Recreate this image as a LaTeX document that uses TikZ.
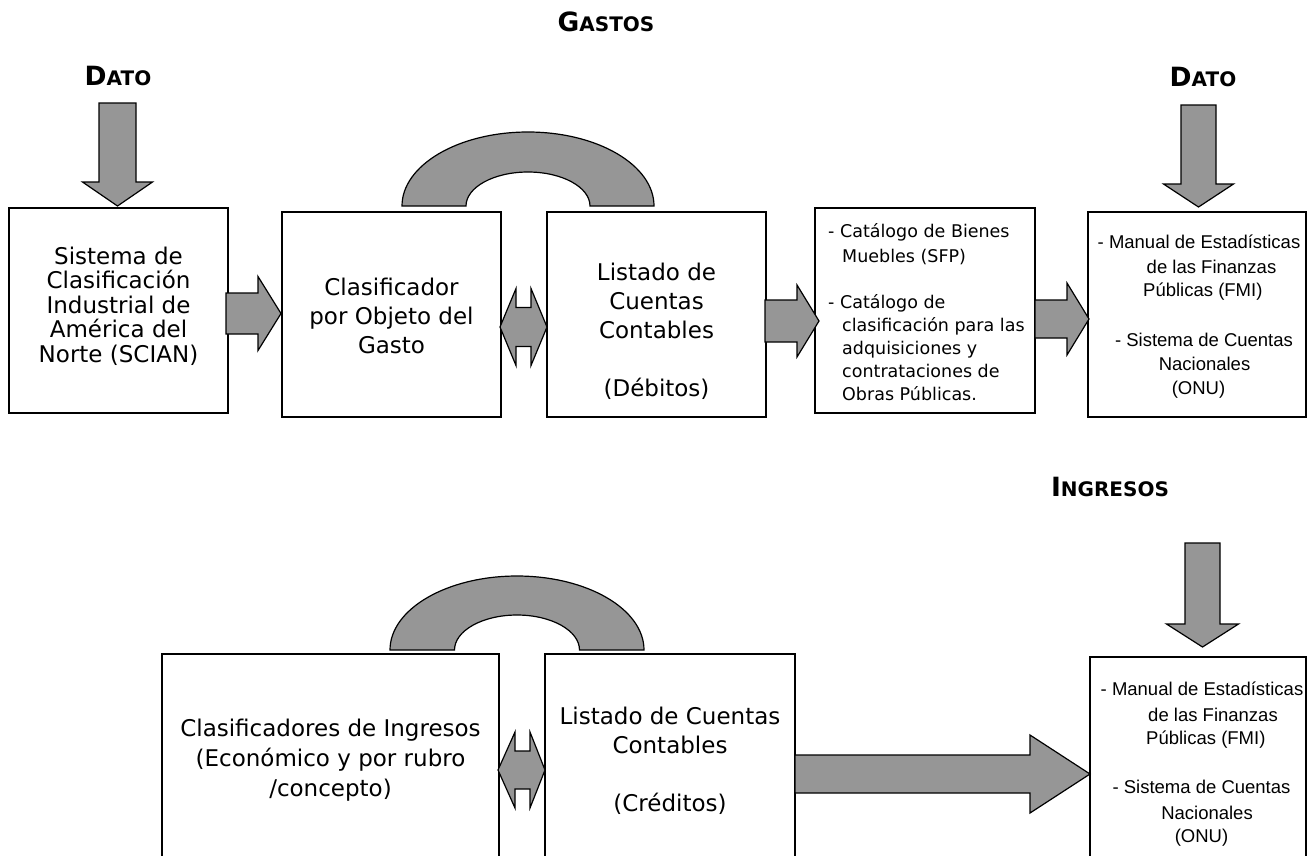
\documentclass[tikz,border=0pt]{standalone}
\usepackage{fontspec}
\setmainfont{DejaVu Sans}
\newfontfamily\tahfont{Liberation Sans}
\definecolor{arrgray}{RGB}{150,150,150}
\newcommand{\smc}[2]{{\fontsize{26.5}{26.5}\selectfont #1}{\fontsize{20}{20}\selectfont #2}}
\newcommand{\rarr}[6]{\draw[blk] (#1,#4-#5) -- (#2,#4-#5) -- (#2,#4-#6) -- (#3,#4) -- (#2,#4+#6) -- (#2,#4+#5) -- (#1,#4+#5) -- cycle;}
\newcommand{\darr}[6]{\draw[blk] (#1-#5,#2) -- (#1+#5,#2) -- (#1+#5,#3) -- (#1+#6,#3) -- (#1,#4) -- (#1-#6,#3) -- (#1-#5,#3) -- cycle;}
\newcommand{\dblarr}[7]{\draw[blk] (#1,#5) -- (#2,#5-#7) -- (#2,#5-#6) -- (#3,#5-#6) -- (#3,#5-#7) -- (#4,#5) -- (#3,#5+#7) -- (#3,#5+#6) -- (#2,#5+#6) -- (#2,#5+#7) -- cycle;}
\begin{document}
\begin{tikzpicture}[x=1pt,y=-1pt,
  box/.style={draw=black,line width=1.5pt,fill=white,rectangle,inner sep=0pt,outer sep=0pt},
  blk/.style={draw=black,line width=1.2pt,fill=arrgray,line join=miter},
  big/.style={font=\fontsize{23}{29}\selectfont,align=center,inner sep=0pt},
  small/.style={font=\fontsize{17.5}{23}\selectfont,align=left,inner sep=0pt,anchor=west},
  tah/.style={font=\tahfont\fontsize{18.5}{18.5}\selectfont,inner sep=0pt},
  hd/.style={font=\bfseries,inner sep=0pt}]
\useasboundingbox (0,0) rectangle (1309,855);
\clip (0,0) rectangle (1309,855);
\fill[white] (0,0) rectangle (1309,855);

% headings
\node[hd] (gastos) at (606,22) {\smc{G}{ASTOS}};
\node[hd] (dato1) at (118,76) {\smc{D}{ATO}};
\node[hd] (dato2) at (1203,77) {\smc{D}{ATO}};
\node[hd] (ingresos) at (1110,487) {\smc{I}{NGRESOS}};

% boxes
\node[box,minimum width=219pt,minimum height=205pt] (b1) at (118.5,310.5) {};
\node[box,minimum width=219pt,minimum height=205pt] (b2) at (391.5,314.5) {};
\node[box,minimum width=219pt,minimum height=205pt] (b3) at (656.5,314.5) {};
\node[box,minimum width=220pt,minimum height=205pt] (b4) at (925,310.5) {};
\node[box,minimum width=218pt,minimum height=205pt] (b5) at (1197,314.5) {};
\node[box,minimum width=337pt,minimum height=226pt] (bA) at (330.5,767) {};
\node[box,minimum width=250pt,minimum height=226pt] (bB) at (670,767) {};
\node[box,minimum width=216pt,minimum height=223pt] (bC) at (1198,768.5) {};

% arrows
\darr{117.5}{103}{182}{206}{18.5}{35}
\darr{1198.5}{105}{184}{207}{17.5}{35}
\darr{1202.5}{543}{624}{647}{17.5}{36}
\rarr{226}{258}{281}{313.5}{20.5}{37}
\rarr{765}{797}{819}{321}{21}{36}
\rarr{1035}{1067}{1089}{319}{19}{36}
\rarr{795}{1030}{1090}{774}{19}{39}
\dblarr{500}{516}{531}{547}{327}{19.5}{38.5}
\dblarr{498}{515}{530}{545}{770}{19}{38}

% arches
\draw[blk] (402,206) arc[start angle=180,end angle=0,x radius=126pt,y radius=74pt]
  -- (590,206) arc[start angle=0,end angle=180,x radius=62pt,y radius=34pt] -- cycle;
\draw[blk] (390,650) arc[start angle=180,end angle=0,x radius=127pt,y radius=74pt]
  -- (579.5,650) arc[start angle=0,end angle=180,x radius=62.5pt,y radius=35pt] -- cycle;

% texts
\node[big,font=\fontsize{23}{24.5}\selectfont] (t1) at (118.5,306) {Sistema de\\Clasificación\\Industrial de\\América del\\Norte (SCIAN)};
\node[big] (t2) at (391.5,315.5) {Clasificador\\por Objeto del\\Gasto};
\node[big] (t3) at (656.5,331) {Listado de\\Cuentas\\Contables\\[29pt](Débitos)};
\node[big,font=\fontsize{23}{30}\selectfont] (tA) at (330.5,760) {Clasificadores de Ingresos\\(Económico y por rubro\\/concepto)};
\node[big] (tB) at (670,760.5) {Listado de Cuentas\\Contables\\[29pt](Créditos)};

\node[small,font=\fontsize{17.5}{25}\selectfont] (t4a) at (828,244.5) {- Catálogo de Bienes\\\hspace*{14pt}Muebles (SFP)};
\node[small] (t4b) at (828,347.5) {- Catálogo de\\\hspace*{14pt}clasificación para las\\\hspace*{14pt}adquisiciones y\\\hspace*{14pt}contrataciones de\\\hspace*{14pt}Obras Públicas.};

\node[tah] (t5a) at (1199,242) {- Manual de Estadísticas};
\node[tah] (t5b) at (1211.5,267) {de las Finanzas};
\node[tah,anchor=west] (t5c) at (1143,292) {Públicas (FMI)};
\node[tah] (t5d) at (1204,340) {- Sistema de Cuentas};
\node[tah] (t5e) at (1204.5,364) {Nacionales};
\node[tah] (t5f) at (1198.5,390) {(ONU)};

\node[tah] (tCa) at (1202,689) {- Manual de Estadísticas};
\node[tah] (tCb) at (1213,715) {de las Finanzas};
\node[tah,anchor=west] (tCc) at (1146,740) {Públicas (FMI)};
\node[tah] (tCd) at (1201.5,787) {- Sistema de Cuentas};
\node[tah] (tCe) at (1207,813) {Nacionales};
\node[tah] (tCf) at (1201.5,838) {(ONU)};
\end{tikzpicture}
\end{document}
